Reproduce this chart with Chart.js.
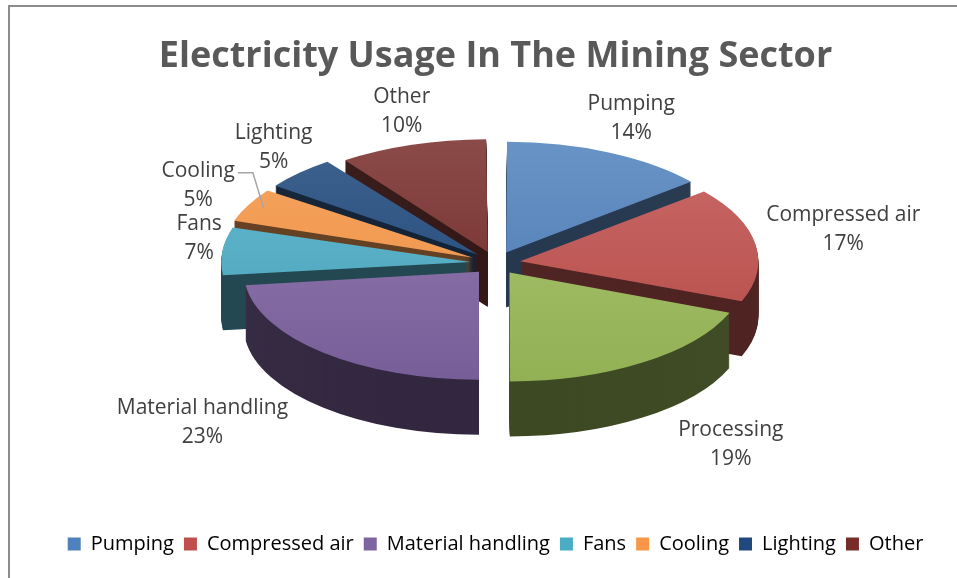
<!DOCTYPE html>
<html>
<head>
<meta charset="utf-8">
<script src="https://cdn.jsdelivr.net/npm/chart.js@4.4.1/dist/chart.umd.min.js"></script>
<style>
  html, body { margin: 0; padding: 0; background: #fff; }
  #wrap { position: relative; width: 957px; height: 578px; overflow: hidden; }
  #frame { position: absolute; left: 8px; top: 5px; width: 1000px; height: 700px; border: 2px solid #8c8c8c; box-sizing: border-box; }
  canvas { position: absolute; left: 0; top: 0; }
</style>
</head>
<body>
<div id="wrap">
  <div id="frame"></div>
  <canvas id="myChart" width="957" height="578"></canvas>
</div>
<script>
// data (clockwise from 12 o'clock)
const categories = ['Pumping', 'Compressed air', 'Processing', 'Material handling', 'Fans', 'Cooling', 'Lighting', 'Other'];
const usage = [14, 17, 19, 23, 7, 5, 5, 10];
const colors = ['#4F81BD', '#C0504D', '#9BBB59', '#8064A2', '#4BACC6', '#F79646', '#1F497D', '#772C2A'];
// the original legend leaves Processing out
const legendHidden = ['Processing'];
// labels that get a leader line
const leaderLabels = ['Cooling'];

const RADIUS = 235;     // pie radius before tilt
const TILT = 0.46;      // vertical squash for the 3d look
const DEPTH = 55;       // thickness of the pie in px
const CENTER_Y = 263;   // where the tilted pie centre lands
const LINE = 29;        // label line height
const total = usage.reduce((a, b) => a + b, 0);

function mix(hex, t, to) {
  const n = parseInt(hex.slice(1), 16);
  const ch = [n >> 16 & 255, n >> 8 & 255, n & 255].map(v => Math.round(v + (to - v) * t));
  return 'rgb(' + ch.join(',') + ')';
}

// light at the back of the pie, a bit darker at the front
function faceFill(c) {
  const base = colors[c.dataIndex];
  const area = c.chart.chartArea;
  if (!area) return base;
  const cy = (area.top + area.bottom) / 2;
  const g = c.chart.ctx.createLinearGradient(0, cy - RADIUS, 0, cy + RADIUS);
  g.addColorStop(0, mix(base, 0.14, 255));
  g.addColorStop(1, mix(base, 0.06, 0));
  return g;
}

const midAngle = a => (a.startAngle + a.endAngle) / 2;

const pie3d = {
  id: 'pie3d',
  beforeDatasetsDraw(chart) {
    const ctx = chart.ctx;
    const arcs = chart.getDatasetMeta(0).data;
    const cy = arcs[0].y;
    ctx.save();
    ctx.translate(0, CENTER_Y);
    ctx.scale(1, TILT);
    ctx.translate(0, -cy);
    // sides, back slices first
    const order = arcs.map((a, i) => i).sort((i, j) => Math.sin(midAngle(arcs[i])) - Math.sin(midAngle(arcs[j])));
    order.forEach(i => {
      for (let d = DEPTH; d > 0; d--) {
        ctx.save();
        ctx.translate(0, d / TILT);
        ctx.filter = 'brightness(0.42)';
        arcs[i].draw(ctx);
        ctx.restore();
      }
    });
  },
  afterDatasetsDraw(chart) {
    const ctx = chart.ctx;
    ctx.restore();
    const arcs = chart.getDatasetMeta(0).data;
    const cx = arcs[0].x;
    ctx.save();
    ctx.font = '21px "Open Sans"';
    ctx.fillStyle = '#404040';
    ctx.textAlign = 'center';
    ctx.textBaseline = 'middle';
    arcs.forEach((a, i) => {
      const m = midAngle(a);
      const c = Math.cos(m), s = Math.sin(m);
      const name = categories[i];
      const pct = Math.round(usage[i] / total * 100) + '%';
      const wName = ctx.measureText(name).width;
      const w = Math.max(wName, ctx.measureText(pct).width);
      const down = Math.max(0, s);
      const extra = leaderLabels.includes(name) ? 22 : 0;
      const x = cx + (a.outerRadius + 40 + extra + w / 2 + 110 * down) * c;
      // side labels sit a little higher, as in the original
      const y = CENTER_Y + (a.outerRadius * TILT + 22 + LINE + 75 * down) * s - 10 * (1 - Math.abs(s));
      ctx.fillText(name, x, y - LINE / 2);
      ctx.fillText(pct, x, y + LINE / 2);
      if (extra) {
        const r = a.outerRadius + (a.options.offset || 0) / 4;
        const ex = cx + r * c, ey = CENTER_Y + r * s * TILT;
        const sx = x + wName / 2 + 3, sy = y - LINE / 2 + 2;
        ctx.beginPath();
        ctx.moveTo(sx, sy);
        ctx.lineTo(sx + 15, sy);
        ctx.lineTo(ex, ey);
        ctx.strokeStyle = '#a6a6a6';
        ctx.lineWidth = 1.5;
        ctx.stroke();
      }
    });
    ctx.restore();
  }
};

const ctx = document.getElementById('myChart');
new Chart(ctx, {
  type: 'pie',
  data: {
    labels: categories,
    datasets: [{
      data: usage,
      backgroundColor: faceFill,
      borderWidth: 0,
      offset: 100,
      clip: false
    }]
  },
  options: {
    responsive: false,
    animation: false,
    radius: RADIUS,
    layout: { padding: { left: 34, bottom: 14 } },
    plugins: {
      tooltip: { enabled: false },
      title: {
        display: true,
        text: 'Electricity Usage In The Mining Sector',
        color: '#595959',
        font: { family: 'Open Sans', size: 36, weight: 'bold' },
        padding: { top: 35, bottom: 10 }
      },
      legend: {
        position: 'bottom',
        labels: {
          color: '#595959',
          font: { family: 'Open Sans', size: 20 },
          boxWidth: 13,
          boxHeight: 13,
          padding: 10,
          generateLabels: chart => categories
            .map((name, i) => ({ text: name, fillStyle: colors[i], strokeStyle: colors[i], lineWidth: 0, index: i }))
            .filter(item => !legendHidden.includes(item.text))
        }
      }
    }
  },
  plugins: [pie3d]
});
</script>
</body>
</html>
